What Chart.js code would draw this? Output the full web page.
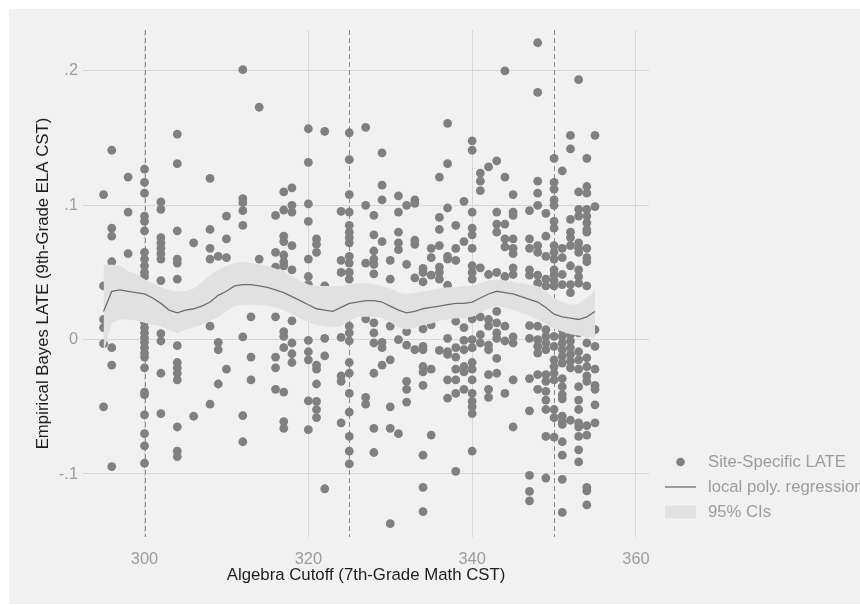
<!DOCTYPE html>
<html><head><meta charset="utf-8">
<style>html,body{margin:0;padding:0;background:#fff;}#wrap{width:860px;height:605px;position:relative;}</style>
<script src="https://cdn.jsdelivr.net/npm/chart.js@4.4.1/dist/chart.umd.min.js"></script>
</head><body><div id="wrap"><canvas id="c" width="860" height="605"></canvas></div>
<script>
// ---- data ----
const cutoffs = [295,296,298,300,302,304,306,308,309,310,312,313,314,316,317,318,320,321,322,324,325,327,328,329,330,331,332,333,334,335,336,337,338,339,340,341,342,343,344,345,347,348,349,350,351,352,353,354,355];
const lateByCutoff = [
 [0.108,0.040,0.015,0.009,-0.003,-0.050],
 [0.141,0.083,0.077,0.058,-0.006,-0.019,-0.0945],
 [0.121,0.095,0.064],
 [0.127,0.117,0.109,0.092,0.088,0.081,0.065,0.060,0.055,0.050,0.047,0.020,0.016,0.013,0.009,0.005,0.0015,-0.002,-0.006,-0.010,-0.013,-0.021,-0.039,-0.041,-0.056,-0.070,-0.079,-0.092],
 [0.1025,0.097,0.076,0.072,0.068,0.064,0.060,0.044,0.014,0.0045,-0.001,-0.025,-0.055],
 [0.153,0.131,0.081,0.060,0.057,0.045,-0.0045,-0.017,-0.021,-0.025,-0.030,-0.065,-0.083,-0.087],
 [0.072,-0.057],
 [0.120,0.082,0.068,0.060,0.010,-0.048],
 [0.062,-0.002,-0.0075,-0.033],
 [0.092,0.075,0.061,-0.022],
 [0.201,0.105,0.102,0.096,0.085,0.002,-0.0565,-0.076],
 [0.017,-0.013,-0.030],
 [0.173,0.060],
 [0.0925,0.065,0.054,0.017,-0.013,-0.021,-0.037],
 [0.110,0.0965,0.077,0.073,0.063,0.058,0.055,0.006,0.0025,-0.006,-0.039,-0.061,-0.066],
 [0.113,0.100,0.095,0.070,0.052,0.014,-0.0025,-0.0105,-0.017],
 [0.157,0.132,0.101,0.088,0.060,0.047,0.041,-0.0005,-0.009,-0.015,-0.0455,-0.067],
 [0.075,0.071,0.065,-0.019,-0.022,-0.033,-0.046,-0.052,-0.058],
 [0.155,0.040,0.001,-0.012,-0.111],
 [0.0955,0.059,0.050,0.0017,-0.027,-0.031,-0.062],
 [0.154,0.134,0.108,0.095,0.085,0.080,0.076,0.072,0.062,0.057,0.050,0.045,0.010,0.005,-0.001,-0.017,-0.025,-0.040,-0.054,-0.072,-0.083,-0.0925],
 [0.158,0.100,0.057,0.0155,-0.043,-0.048],
 [0.0925,0.078,0.066,0.060,0.056,0.049,0.0125,0.005,-0.0025,-0.025,-0.066,-0.084],
 [0.139,0.115,0.104,0.073,-0.002,-0.006,-0.019],
 [0.059,0.045,0.010,-0.015,-0.050,-0.066,-0.137],
 [0.107,0.095,0.080,0.072,0.067,0.000,-0.070],
 [0.100,0.056,0.006,-0.004,-0.031,-0.037,-0.0465],
 [0.104,0.1015,0.074,0.071,0.046,-0.0075],
 [0.053,0.050,0.043,0.008,-0.005,-0.0075,-0.020,-0.024,-0.034,-0.086,-0.110,-0.128],
 [0.068,0.061,0.048,0.011,-0.022,-0.071],
 [0.121,0.091,0.082,0.070,0.054,0.050,0.045,-0.008],
 [0.161,0.131,0.098,0.062,0.060,0.0405,0.001,-0.009,-0.011,-0.030,-0.0435],
 [0.085,0.068,0.059,0.0137,-0.006,-0.013,-0.022,-0.030,-0.040,-0.098],
 [0.103,0.073,0.009,-0.0005,-0.0075,-0.020,-0.024,-0.037],
 [0.148,0.141,0.095,0.083,0.078,0.068,0.055,0.050,0.045,0.0155,0.000,-0.006,-0.017,-0.022,-0.030,-0.040,-0.046,-0.050,-0.055,-0.083],
 [0.124,0.118,0.111,0.0535,0.017,0.0037,-0.0025],
 [0.1286,0.0485,0.015,0.010,-0.004,-0.0075,-0.026,-0.037,-0.043],
 [0.133,0.095,0.086,0.080,0.050,0.021,0.0125,0.005,0.001,-0.014,-0.025],
 [0.200,0.121,0.086,0.075,0.069,0.047,0.010,-0.001,-0.040],
 [0.108,0.095,0.0925,0.075,0.068,0.064,0.0535,0.0485,0.002,-0.0025,-0.030,-0.065],
 [0.096,0.075,0.068,0.052,0.048,0.0105,0.001,-0.029,-0.053,-0.101,-0.113,-0.120],
 [0.221,0.184,0.118,0.109,0.100,0.070,0.065,0.048,0.042,0.010,0.000,-0.005,-0.010,-0.026,-0.037],
 [0.094,0.077,0.062,0.045,0.040,0.0075,0.0025,-0.0025,-0.0075,-0.026,-0.031,-0.0385,-0.045,-0.052,-0.072,-0.103],
 [0.135,0.117,0.112,0.104,0.100,0.088,0.083,0.070,0.065,0.060,0.052,0.048,0.044,0.040,0.0025,-0.005,-0.015,-0.020,-0.025,-0.030,-0.052,-0.058,-0.0725],
 [0.1256,0.068,0.061,0.0485,0.041,0.0075,0.0025,-0.0025,-0.0075,-0.0125,-0.0175,-0.029,-0.035,-0.041,-0.044,-0.057,-0.061,-0.063,-0.076,-0.086,-0.104,-0.1286],
 [0.152,0.142,0.0895,0.080,0.076,0.070,0.055,0.041,0.035,0.0037,-0.001,-0.006,-0.011,-0.016,-0.021,-0.060],
 [0.1935,0.110,0.097,0.092,0.072,0.068,0.065,0.052,0.047,0.042,0.005,-0.009,-0.015,-0.022,-0.035,-0.045,-0.052,-0.062,-0.065,-0.072,-0.082,-0.091],
 [0.135,0.114,0.109,0.097,0.092,0.087,0.082,0.080,0.068,0.061,0.058,0.040,-0.0025,-0.0135,-0.020,-0.027,-0.031,-0.064,-0.071,-0.110,-0.1125,-0.123],
 [0.152,0.099,0.0075,-0.005,-0.022,-0.034,-0.037,-0.0485,-0.062]
];
const fitX = [295,296,297,298,299,300,301,302,303,304,305,306,307,308,309,310,311,312,313,314,315,316,317,318,319,320,321,322,323,324,325,326,327,328,329,330,331,332,333,334,335,336,337,338,339,340,341,342,343,344,345,346,347,348,349,350,351,352,353,354,355];
const fitY = [0.021,0.036,0.037,0.036,0.035,0.034,0.031,0.027,0.022,0.020,
 0.022,0.023,0.025,0.028,0.033,0.036,0.040,0.041,0.041,0.040,
 0.039,0.037,0.035,0.032,0.029,0.026,0.023,0.022,0.021,0.024,
 0.027,0.028,0.029,0.029,0.028,0.025,0.022,0.020,0.021,0.023,
 0.024,0.025,0.026,0.027,0.027,0.028,0.031,0.034,0.036,0.035,
 0.034,0.032,0.030,0.028,0.024,0.019,0.017,0.016,0.015,0.017,0.021];
const ciLow = [-0.009,0.012,0.015,0.015,0.014,0.0125,0.011,0.010,0.007,0.005,
 0.0075,0.009,0.011,0.014,0.017,0.021,0.025,0.026,0.026,0.026,
 0.025,0.024,0.022,0.019,0.016,0.013,0.011,0.010,0.009,0.010,
 0.014,0.017,0.017,0.017,0.016,0.013,0.009,0.0075,0.009,0.011,
 0.012,0.014,0.015,0.016,0.016,0.017,0.020,0.023,0.025,0.024,
 0.022,0.020,0.018,0.015,0.012,0.008,0.006,0.004,0.003,0.002,0.001];
const ciHigh = [0.055,0.056,0.055,0.051,0.049,0.045,0.042,0.039,0.037,0.036,
 0.036,0.038,0.043,0.048,0.052,0.055,0.057,0.058,0.057,0.056,
 0.055,0.053,0.051,0.047,0.044,0.041,0.040,0.040,0.040,0.040,
 0.041,0.042,0.042,0.041,0.040,0.038,0.035,0.034,0.035,0.036,
 0.037,0.038,0.039,0.039,0.040,0.040,0.042,0.044,0.045,0.044,
 0.043,0.042,0.041,0.040,0.036,0.031,0.028,0.026,0.027,0.031,0.037];
const cutoffLines = [300,325,350];
const xTicks = [300,320,340,360];
const yTicks = [-0.1,0,0.1,0.2];
const yTickLabels = ['-.1','0','.1','.2'];
const legendLabels = ['Site-Specific LATE','local poly. regression','95% CIs'];
const xTitle = 'Algebra Cutoff (7th-Grade Math CST)';
const yTitle = 'Empirical Bayes LATE (9th-Grade ELA CST)';

// ---- styles ----
const FONT = '"Liberation Sans", Arial, Helvetica, sans-serif';
const C_POINT = '#808080', C_LINE = '#6e6e6e', C_BAND = '#e1e1e1', C_GRID = '#d7d7d7', C_TICK = '#9c9c9c', C_TITLE = '#1e1e1e', C_BG = '#f1f1f1';

const sitePoints = [];
cutoffs.forEach((c, i) => lateByCutoff[i].forEach(v => sitePoints.push({x: c, y: v})));
const xy = (xs, ys) => xs.map((x, i) => ({x: x, y: ys[i]}));

const bgPlugin = {
  id: 'bg',
  beforeDraw(chart) {
    const ctx = chart.ctx;
    ctx.save();
    ctx.fillStyle = '#ffffff'; ctx.fillRect(0, 0, chart.width, chart.height);
    ctx.fillStyle = C_BG; ctx.fillRect(9, 9, chart.width - 9, chart.height - 10);
    ctx.restore();
  }
};
const cutoffPlugin = {
  id: 'cutoffs',
  beforeDatasetsDraw(chart) {
    const {ctx, chartArea, scales} = chart;
    ctx.save();
    ctx.strokeStyle = '#8a8a8a'; ctx.lineWidth = 1; ctx.setLineDash([5, 3]);
    cutoffLines.forEach(v => {
      const x = Math.round(scales.x.getPixelForValue(v)) + 0.5;
      ctx.beginPath(); ctx.moveTo(x, chartArea.top); ctx.lineTo(x, chartArea.bottom); ctx.stroke();
    });
    ctx.restore();
  }
};
const legendPlugin = {
  id: 'customLegend',
  afterDraw(chart) {
    const ctx = chart.ctx;
    const sx = 665, sw = 31, tx = 708, ys = [462, 487, 512];
    ctx.save();
    ctx.fillStyle = C_POINT;
    ctx.beginPath(); ctx.arc(sx + sw / 2, ys[0], 4.3, 0, Math.PI * 2); ctx.fill();
    ctx.strokeStyle = C_LINE; ctx.lineWidth = 1.3;
    ctx.beginPath(); ctx.moveTo(sx, ys[1]); ctx.lineTo(sx + sw, ys[1]); ctx.stroke();
    ctx.fillStyle = C_BAND; ctx.fillRect(sx, ys[2] - 6.5, sw, 13);
    ctx.fillStyle = C_TICK; ctx.font = '16.7px ' + FONT; ctx.textBaseline = 'middle'; ctx.textAlign = 'left';
    legendLabels.forEach((t, i) => ctx.fillText(t, tx, ys[i]));
    ctx.restore();
  }
};

new Chart(document.getElementById('c'), {
  type: 'scatter',
  data: {
    datasets: [
      {type: 'line', label: legendLabels[1], data: xy(fitX, fitY), borderColor: C_LINE, borderWidth: 1.3, pointRadius: 0, fill: false, tension: 0, order: 0},
      {type: 'line', label: 'ci-low', data: xy(fitX, ciLow), borderColor: 'rgba(0,0,0,0)', borderWidth: 1, pointRadius: 0, fill: false, order: 1},
      {type: 'line', label: legendLabels[2], data: xy(fitX, ciHigh), borderColor: 'rgba(0,0,0,0)', borderWidth: 1, pointRadius: 0, fill: {target: 1}, backgroundColor: C_BAND, order: 1},
      {type: 'scatter', label: legendLabels[0], data: sitePoints, backgroundColor: C_POINT, borderWidth: 0, pointRadius: 4.4, order: 3}
    ]
  },
  options: {
    responsive: false, animation: false, devicePixelRatio: 1,
    layout: {padding: {left: 33, right: 211, top: 30, bottom: 20}},
    plugins: {legend: {display: false}, tooltip: {enabled: false}},
    scales: {
      x: {
        type: 'linear', min: 292.49, max: 361.59,
        afterBuildTicks: a => { a.ticks = xTicks.map(v => ({value: v})); },
        afterFit: s => { s.height = 48; },
        grid: {color: C_GRID, lineWidth: 1, drawTicks: false},
        border: {display: false},
        ticks: {color: C_TICK, font: {family: FONT, size: 16.4}, padding: 13, maxRotation: 0},
        title: {display: true, text: xTitle, color: C_TITLE, font: {family: FONT, size: 16.8}, padding: 0}
      },
      y: {
        type: 'linear', min: -0.1469, max: 0.2305,
        afterBuildTicks: a => { a.ticks = yTicks.map(v => ({value: v})); },
        afterFit: s => { s.width = 50; },
        grid: {color: C_GRID, lineWidth: 1, drawTicks: false},
        border: {display: false},
        ticks: {color: C_TICK, font: {family: FONT, size: 16.4}, padding: 5,
          callback: v => { const i = yTicks.findIndex(t => Math.abs(t - v) < 1e-9); return i >= 0 ? yTickLabels[i] : ''; }},
        title: {display: true, text: yTitle, color: C_TITLE, font: {family: FONT, size: 16.8}, padding: 0}
      }
    }
  },
  plugins: [bgPlugin, cutoffPlugin, legendPlugin]
});
</script>
</body></html>
